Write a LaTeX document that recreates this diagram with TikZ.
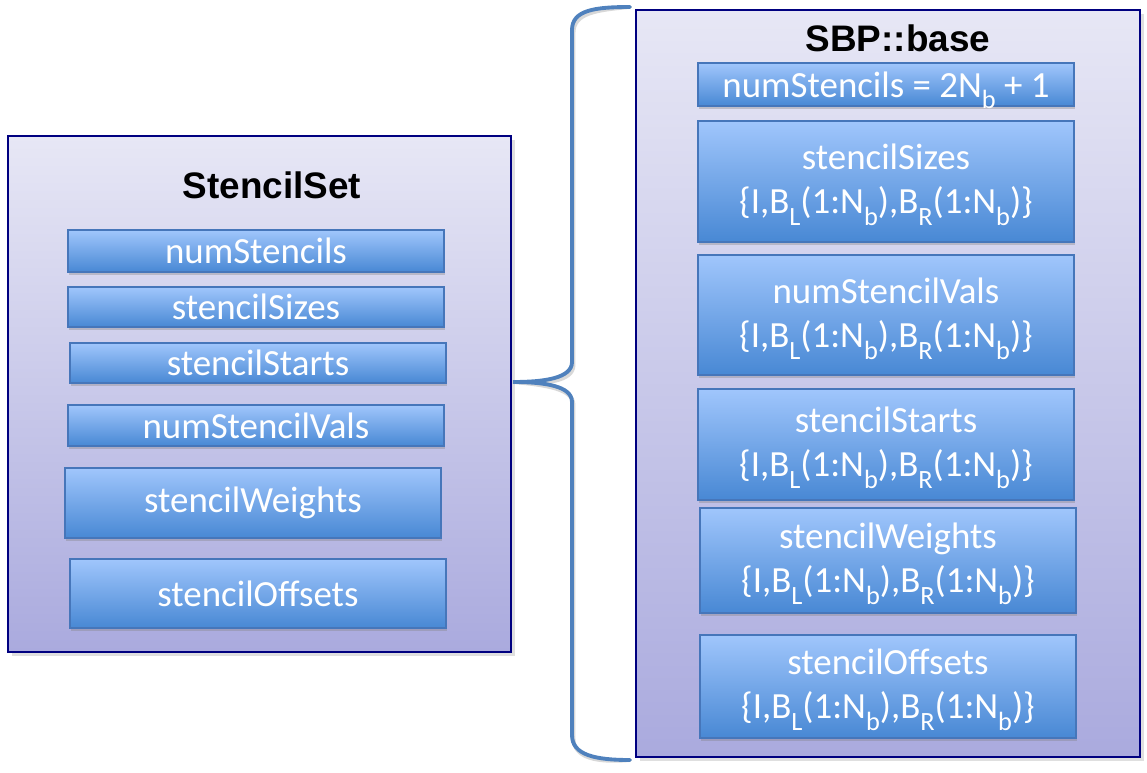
\documentclass[tikz,border=0pt]{standalone}
\usepackage{fontspec}
\setmainfont{Carlito}
\newfontfamily\headfont{Liberation Sans}
\usetikzlibrary{shadows}

\definecolor{panelline}{RGB}{0,0,128}
\definecolor{paneltop}{RGB}{231,231,245}
\definecolor{panelbot}{RGB}{170,170,222}
\definecolor{boxline}{RGB}{70,118,186}
\definecolor{boxtop}{RGB}{160,198,252}
\definecolor{boxmid}{RGB}{128,174,238}
\definecolor{boxbot}{RGB}{72,136,212}
\definecolor{braceline}{RGB}{79,129,189}

\newcommand{\lowsub}[1]{\smash{\raisebox{-0.32em}{\fontsize{15}{15}\selectfont #1}}}

\begin{document}
\begin{tikzpicture}[
  x=0.02cm, y=-0.02cm,
  panel/.style={draw=panelline, line width=1.2pt, top color=paneltop, bottom color=panelbot, inner sep=0pt},
  box/.style={draw=boxline, line width=0.8pt, top color=boxtop, middle color=boxmid, bottom color=boxbot, inner sep=0pt, align=center, text=white, minimum width=7.52cm, font=\fontsize{21}{25}\selectfont, drop shadow={opacity=0.35, shadow xshift=0.6pt, shadow yshift=-1.6pt}},
  title/.style={font=\headfont\bfseries\fontsize{21}{25}\selectfont},
  brace/.style={draw=braceline, line width=2.2pt, line cap=round}
]
\useasboundingbox (0,0) rectangle (1147,772);
\newcommand{\range}{\{I,B\lowsub{L}(1:N\lowsub{b}),B\lowsub{R}(1:N\lowsub{b})\}}

% left panel
\node[panel, minimum width=10.06cm, minimum height=10.32cm, drop shadow={opacity=0.25}] (lpanel) at (259.5,394) {};
\node[title] (ltitle) at (272,185) {StencilSet};
\node[box, minimum height=0.84cm] (lnum) at (256,251) {numStencils};
\node[box, minimum height=0.80cm] (lsizes) at (256,307) {stencilSizes};
\node[box, minimum height=0.80cm] (lstarts) at (258,363) {stencilStarts};
\node[box, minimum height=0.82cm] (lvals) at (256,425.5) {numStencilVals};
\node[box, minimum height=1.40cm] (lweights) at (253,503) {stencilWeights};
\node[box, minimum height=1.38cm] (loffsets) at (258,593.5) {stencilOffsets};

% right panel
\node[panel, minimum width=10.08cm, minimum height=14.94cm, drop shadow={opacity=0.25}] (rpanel) at (888,383.5) {};
\node[title] (rtitle) at (898,38) {SBP::base};
\node[box, minimum height=0.86cm] (rnum) at (886,84.5) {numStencils = 2N\lowsub{b} + 1};
\node[box, minimum height=2.42cm] (rsizes) at (886,181.5) {stencilSizes\\\range};
\node[box, minimum height=2.40cm] (rvals) at (886,315) {numStencilVals\\\range};
\node[box, minimum height=2.22cm] (rstarts) at (886,444.5) {stencilStarts\\\range};
\node[box, minimum height=2.10cm] (rweights) at (888,560.5) {stencilWeights\\\range};
\node[box, minimum height=2.06cm] (roffsets) at (888,686.5) {stencilOffsets\\\range};

% brace
\coordinate (btop) at (630,7);
\coordinate (bbot) at (630,760);
\coordinate (tip) at (513,382);
\draw[brace, draw=black!30, opacity=0.5, shift={(1.5,3)}] (btop) .. controls (595,7) and (572,10) .. (572,30) -- (572,362)
  .. controls (572,378) and (545,382) .. (tip) .. controls (545,382) and (572,386) .. (572,402)
  -- (572,735) .. controls (572,755) and (595,760) .. (bbot);
\draw[brace] (btop) .. controls (595,7) and (572,10) .. (572,30) -- (572,362)
  .. controls (572,378) and (545,382) .. (tip) .. controls (545,382) and (572,386) .. (572,402)
  -- (572,735) .. controls (572,755) and (595,760) .. (bbot);
\end{tikzpicture}
\end{document}
